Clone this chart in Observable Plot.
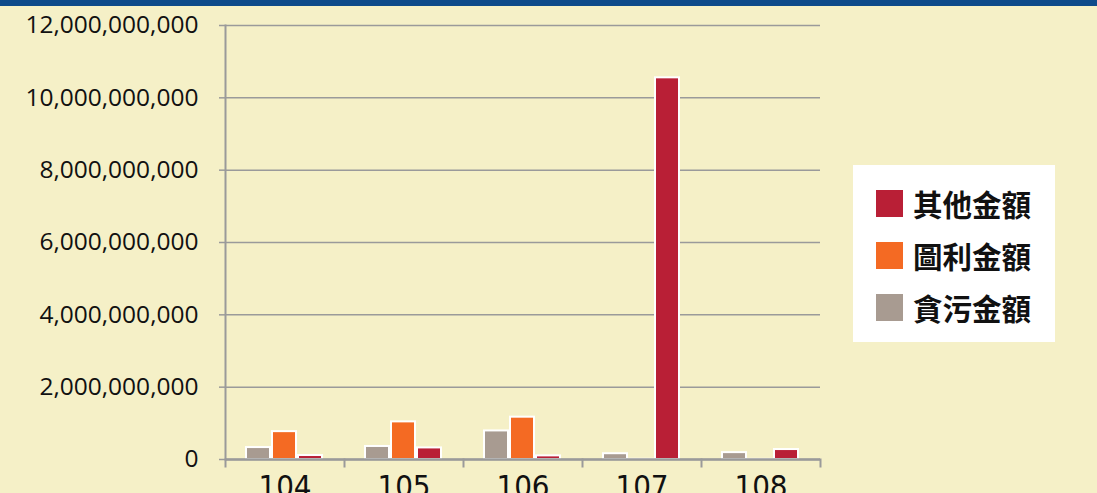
<!DOCTYPE html>
<html><head><meta charset="utf-8">
<script src="https://cdn.jsdelivr.net/npm/d3@7"></script>
<script src="https://cdn.jsdelivr.net/npm/@observablehq/plot@0.6"></script>
<style>
body{margin:0;background:#F5F0C7;}
#wrap{position:relative;width:1097px;height:493px;overflow:hidden;background:#F5F0C7;}
#band{height:6px;background:#0D4A8A;}
#legend{position:absolute;left:853px;top:165px;width:202px;height:177px;background:#fff;font-family:"Noto Sans CJK TC","Noto Sans CJK SC",sans-serif;font-weight:bold;font-size:29.5px;color:#111;}
.row{position:absolute;left:23px;display:flex;align-items:center;height:30px;white-space:nowrap}
.sw{width:27px;height:27px;margin-right:10px}
</style>
</head><body>
<div id="wrap"><div id="band"></div><div id="chart"></div><div id="legend"></div></div>
<script>
const years = ["104", "105", "106", "107", "108"];
const seriesNames = ["貪污金額", "圖利金額", "其他金額"];
const corruption = [330e6, 360e6, 790e6, 160e6, 190e6];   // 貪污金額
const profiteering = [770e6, 1040e6, 1170e6, 5e6, 3e6];    // 圖利金額
const other = [110e6, 320e6, 100e6, 10553e6, 275e6];       // 其他金額
const seriesColors = ["#A89B91", "#F46A23", "#B91F36"];
const yTicks = [0, 2e9, 4e9, 6e9, 8e9, 10e9, 12e9];
const legendOrder = ["其他金額", "圖利金額", "貪污金額"];

const valuesBySeries = [corruption, profiteering, other];
const data = [];
years.forEach((yr, i) => seriesNames.forEach((s, j) => data.push({year: yr, series: s, value: valuesBySeries[j][i]})));

const axisColor = "#9A9A9A";
const plot = Plot.plot({
  width: 1097,
  height: 487,
  marginLeft: 225,
  marginRight: 277,
  marginTop: 19,
  marginBottom: 34,
  style: {background: "transparent", fontFamily: "'Open Sans', sans-serif"},
  fx: {domain: years, padding: 0, axis: null},
  x: {domain: seriesNames, paddingInner: 0.06, paddingOuter: 0.77, axis: null},
  y: {domain: [0, 12e9], axis: null},
  color: {domain: seriesNames, range: seriesColors},
  marks: [
    Plot.gridY(yTicks, {stroke: axisColor, strokeOpacity: 1, strokeWidth: 1.5}),
    Plot.axisY({ticks: yTicks, tickFormat: d3.format(","), label: null, tickSize: 6, tickPadding: 21, fontSize: 24.5, stroke: axisColor, strokeWidth: 1.5, strokeOpacity: 1, fill: "#111", facetAnchor: "left"}),
    Plot.frame({anchor: "left", facetAnchor: "left", stroke: axisColor, strokeWidth: 2}),
    Plot.frame({anchor: "left", insetTop: 434, insetBottom: -7, stroke: axisColor, strokeWidth: 2}),
    Plot.frame({anchor: "right", facetAnchor: "right", insetTop: 434, insetBottom: -7, stroke: axisColor, strokeWidth: 2}),
    Plot.barY(data, {fx: "year", x: "series", y: "value", fill: "series", stroke: "white", strokeWidth: 2}),
    Plot.ruleY([0], {stroke: axisColor, strokeWidth: 2.5}),
    Plot.axisFx({anchor: "bottom", label: null, tickSize: 0, tickPadding: 15, fontSize: 31, fill: "#111", fontFamily: "'Liberation Sans Narrow', 'DejaVu Sans Condensed', sans-serif"})
  ]
});
document.getElementById("chart").appendChild(plot);

const color = plot.scale("color");
const legend = document.getElementById("legend");
const colorOf = Object.fromEntries(color.domain.map((d, i) => [d, color.range[i]]));
legendOrder.forEach((name, i) => {
  const row = document.createElement("div");
  row.className = "row";
  row.style.top = (23 + i * 52) + "px";
  const sw = document.createElement("div");
  sw.className = "sw";
  sw.style.background = colorOf[name];
  const t = document.createElement("span");
  t.textContent = name;
  row.appendChild(sw); row.appendChild(t);
  legend.appendChild(row);
});
</script>
</body></html>
